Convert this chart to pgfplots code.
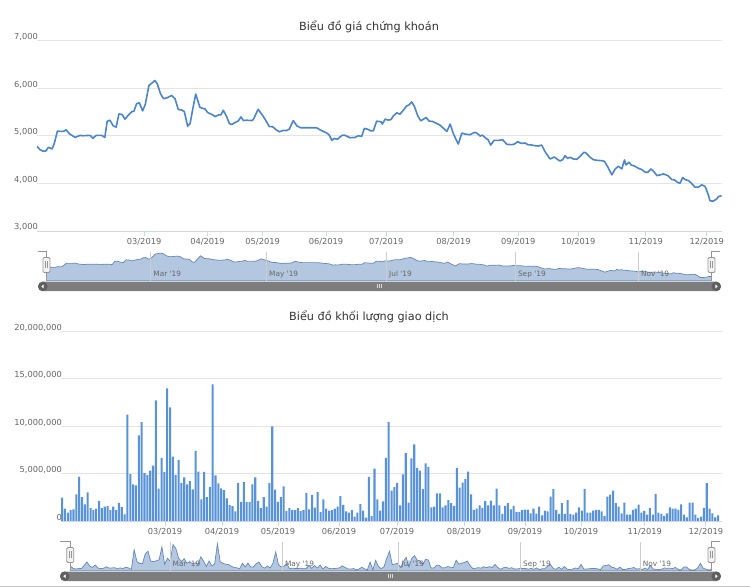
\documentclass[border=0pt]{standalone}
\usepackage{pgfplots}
\usepackage{pgfplotstable}
\pgfplotsset{compat=1.18}
\usepackage{fontspec}
\setmainfont{DejaVu Sans}
\definecolor{pline}{RGB}{74,134,204}
\definecolor{barc}{RGB}{88,146,216}
\definecolor{gridc}{RGB}{228,228,228}
\definecolor{axisline}{RGB}{204,214,235}
\definecolor{lbl}{RGB}{102,102,102}
\definecolor{ttl}{RGB}{51,51,51}
\definecolor{navfill}{RGB}{180,199,224}
\definecolor{navline}{RGB}{100,135,185}
\definecolor{navgrid}{RGB}{205,205,205}
\definecolor{outl}{RGB}{150,150,150}
\definecolor{scrollc}{RGB}{125,125,125}
\definecolor{scrollbtn}{RGB}{95,95,95}

\pgfplotstableread{
x p
0 4778
1.0 4708
2.1 4674
3.0 4681
3.8 4757
4.6 4736
5.0 4722
5.7 4826
6.8 5097
8.2 5090
9.0 5097
9.7 5125
10.8 5042
12.7 4965
14.3 5007
15.4 5000
17.1 5007
17.9 5000
18.6 4944
19.7 5007
21.6 5007
22.6 4965
23.4 5305
24.3 5326
25.4 5208
26.4 5181
27.3 5458
28.4 5444
29.3 5347
30.7 5451
31.6 5507
32.3 5514
33.2 5674
34.1 5694
35.2 5521
36.1 5660
37.3 6055
38.4 6111
39.3 6160
40.1 6090
41.2 5875
42.2 5778
43.4 5799
44.9 5847
46.0 5778
47.1 5549
48.2 5542
49.1 5507
50.2 5201
51.0 5250
51.9 5556
52.9 5875
54.3 5597
55.2 5576
56.0 5562
56.9 5486
58.6 5437
59.3 5403
60.8 5444
61.3 5437
62.1 5535
63.2 5403
64.1 5257
64.9 5236
66.0 5278
67.1 5312
68.0 5396
68.8 5319
69.9 5326
71.6 5319
72.1 5340
73.7 5556
74.9 5451
76.0 5347
77.4 5194
78.6 5188
79.7 5125
80.8 5083
81.9 5111
83.2 5111
84.1 5139
85.4 5319
86.6 5208
87.9 5167
89.3 5167
91.0 5167
93.2 5167
94.3 5125
96.6 5056
97.4 5014
98.3 4903
99.1 4944
100.1 4924
101.6 5007
102.4 5014
103.2 4993
104.3 4958
106.0 4965
107.1 5000
108.2 4986
109.1 5153
110.1 5139
111.2 5104
112.1 5104
113.2 5306
114.7 5293
115.1 5244
116.0 5348
117.1 5328
118.0 5341
118.8 5418
119.9 5481
121.0 5453
122.1 5537
123.2 5627
124.0 5648
124.9 5711
125.8 5613
126.9 5418
127.9 5314
128.8 5348
129.7 5383
130.7 5307
131.8 5300
133.0 5265
134.3 5223
135.4 5160
136.6 5091
137.7 5244
138.8 5035
140.4 4826
141.6 5056
142.7 5035
144.3 5021
145.8 5070
146.6 5056
147.7 4993
148.4 5014
149.7 4944
150.4 4909
151.2 4805
152.3 4902
153.8 4902
155.2 4916
156.6 4819
158.2 4812
159.1 4826
160.2 4875
161.3 4840
162.7 4847
163.6 4812
164.9 4805
166.0 4791
167.1 4784
168.2 4805
169.3 4666
171.0 4512
172.4 4554
173.6 4498
174.3 4470
175.2 4498
176.0 4582
176.8 4526
177.7 4547
178.8 4512
179.9 4505
181.0 4568
182.3 4652
183.0 4638
184.1 4561
185.4 4498
186.6 4484
188.2 4477
189.1 4463
190.1 4359
191.6 4178
192.7 4303
193.8 4359
194.9 4303
195.8 4491
196.3 4387
197.3 4443
198.0 4387
199.1 4366
200.4 4317
201.6 4289
202.7 4233
203.6 4233
204.6 4303
205.5 4254
206.6 4164
207.7 4178
208.8 4199
210.2 4164
211.6 4080
212.4 4073
213.6 4017
214.3 4003
215.2 4122
216.0 4080
217.1 4059
218.0 4010
219.3 3920
220.4 3920
221.6 3969
222.7 3934
223.8 3746
224.3 3634
225.4 3627
226.6 3676
227.1 3725
228.2 3739
}\pricetable

\pgfplotstableread{
v
2.45
1.3
0.87
1.15
1.22
2.8
4.65
2.5
1.75
3.0
1.36
1.15
1.3
2.13
1.36
1.5
1.57
1.15
1.5
1.15
1.92
1.47
0.7
11.2
4.93
3.85
3.74
9.0
10.4
5.03
4.86
5.3
5.84
12.7
3.4
6.64
5.14
13.95
11.96
6.78
4.86
6.43
4.0
4.6
3.85
4.2
3.32
7.38
5.2
2.27
5.17
2.5
3.6
14.37
4.79
3.95
3.43
3.25
2.38
1.68
1.57
1.0
4.0
2.0
4.1
2.0
2.0
3.85
4.6
2.13
1.36
2.5
1.5
4.0
9.97
3.3
2.0
2.5
3.64
1.05
1.36
1.15
1.15
1.36
1.05
1.15
2.97
1.22
2.76
1.4
3.04
0.94
2.27
1.3
1.08
1.15
1.3
1.5
2.62
1.71
1.0
0.87
1.15
0.45
0.87
1.78
1.08
0.35
4.65
0.52
5.5
2.27
1.08
2.06
6.64
10.4
3.2
3.6
4.0
1.65
4.9
7.15
1.94
6.6
8.06
5.6
5.3
3.35
6.06
5.7
1.44
1.5
2.9
2.9
1.44
1.65
2.2
1.87
1.58
5.6
3.5
4.05
4.4
5.2
2.8
1.16
1.3
1.65
1.37
2.08
1.65
2.15
1.65
3.4
1.65
0.74
1.58
1.87
1.23
1.58
0.95
0.95
1.16
1.2
1.2
0.81
1.3
0.77
1.5
0.6
1.09
1.02
2.57
3.35
1.16
0.74
1.87
0.74
2.2
0.74
0.67
0.88
1.44
1.09
3.38
0.88
0.88
1.09
1.16
1.16
1.02
0.53
2.57
2.78
3.2
1.87
1.51
0.81
1.94
0.67
0.67
1.16
1.3
1.72
0.88
1.06
0.67
1.37
0.67
2.85
0.88
0.74
0.53
0.81
1.44
1.3
1.3
1.16
1.76
0.67
0.39
1.94
1.94
0.67
0.32
0.46
1.37
3.98
1.3
0.81
0.39
0.6
}\voltable

\pgfplotsset{
  mainax/.style={
    scale only axis, anchor=south west,
    axis x line*=bottom, axis y line*=left,
    separate axis lines,
    x axis line style={draw=axisline, line width=0.8bp},
    y axis line style={draw=none},
    ymajorgrids, grid style={draw=gridc, line width=0.8bp},
    tick align=outside,
    xtick style={draw=axisline, line width=0.8bp},
    major tick length=5bp,
    ytick style={draw=none},
    ticklabel style={font=\fontsize{8.3}{9.5}\selectfont, text=lbl},
    yticklabel style={anchor=base east, inner sep=0pt, xshift=6bp, yshift=1bp},
    xticklabel style={anchor=north, inner sep=0pt, yshift=-2.5bp},
    /pgf/number format/assume math mode=true,
  },
  navax/.style={
    scale only axis, anchor=south west,
    axis line style={draw=none},
    ytick=\empty,
    xmajorgrids, grid style={draw=navgrid, line width=0.8bp},
    tick style={draw=none},
    axis on top,
    ticklabel style={font=\fontsize{7.4}{8}\selectfont, text=lbl},
    xticklabel style={anchor=base west, inner sep=0pt, xshift=2.5bp, yshift=4bp},
    xticklabels={Mar \textquotesingle19,May \textquotesingle19,Jul \textquotesingle19,Sep \textquotesingle19,Nov \textquotesingle19},
  },
}

\begin{document}
\begin{tikzpicture}
\path[use as bounding box] (0,0) rectangle (750bp,587bp);

% ---------- titles
\node[font=\fontsize{11.3}{13}\selectfont, text=ttl] at (369bp,560.5bp) {Biểu đồ giá chứng khoán};
\node[font=\fontsize{11.3}{13}\selectfont, text=ttl] at (369bp,270.5bp) {Biểu đồ khối lượng giao dịch};

% ---------- price chart
\begin{axis}[mainax,
  at={(37bp,356bp)}, width=684.7bp, height=190.5bp,
  xmin=0, xmax=228.2, ymin=3000, ymax=7000,
  ytick={3000,4000,5000,6000,7000},
  yticklabels={{3,000},{4,000},{5,000},{6,000},{7,000}},
  xtick={35.7,56.8,75.2,96.3,116.4,138.8,160.4,180.4,202.9,223.2},
  xticklabels={03/2019,04/2019,05/2019,06/2019,07/2019,08/2019,09/2019,10/2019,11/2019,12/2019},
]
\addplot[pline, line width=1.6bp, line join=round, mark=none] table[x=x,y=p]{\pricetable};
\end{axis}

% ---------- price navigator
\begin{axis}[navax,
  at={(46.4bp,306.3bp)}, width=665.1bp, height=29bp,
  xmin=0, xmax=228.2, ymin=3300, ymax=6300,
  xtick={35.8,75.5,116.7,160.9,203.1},
]
\addplot[fill=navfill, draw=navline, line width=0.7bp, mark=none] table[x=x,y=p]{\pricetable} \closedcycle;
\end{axis}

% ---------- volume chart
\begin{axis}[mainax,
  at={(61bp,66bp)}, width=660.5bp, height=190bp,
  xmin=-0.4, xmax=232.2, ymin=0, ymax=20,
  ytick={0,5,10,15,20},
  yticklabels={0,{5,000,000},{10,000,000},{15,000,000},{20,000,000}},
  xtick={36.2,56.3,76.0,97.5,117.9,141.5,163.0,182.7,205.2,226.7},
  xticklabels={03/2019,04/2019,05/2019,06/2019,07/2019,08/2019,09/2019,10/2019,11/2019,12/2019},
]
\addplot[ybar, bar width=0.72, fill=barc, draw=none] table[x expr=\coordindex, y=v]{\voltable};
\end{axis}

% ---------- volume navigator
\begin{axis}[navax,
  at={(70.3bp,16.3bp)}, width=641.2bp, height=29bp,
  xmin=0, xmax=231, ymin=0, ymax=15.5,
  xtick={35.9,76.4,118.3,162.2,205.3},
]
\addplot[fill=navfill, draw=navline, line width=0.7bp, mark=none] table[x expr=\coordindex, y=v]{\voltable} \closedcycle;
\end{axis}

% ---------- navigator outlines, handles, scrollbars
\begin{scope}[x=1bp,y=1bp]
  % top navigator
  \draw[outl, line width=0.9bp] (38.3,335.3) -- (46.4,335.3) -- (46.4,306.3);
  \draw[outl, line width=0.9bp] (720,335.3) -- (711.5,335.3) -- (711.5,306.3);
  \foreach \hx in {46.4,711.5}{
    \draw[outl, fill=white!95!black, line width=0.8bp, rounded corners=1.2bp] (\hx-3.5,314.5) rectangle (\hx+3.5,329.5);
    \draw[outl, line width=0.6bp] (\hx-1,318.5) -- (\hx-1,325.5) (\hx+1,318.5) -- (\hx+1,325.5);
  }
  \fill[scrollc, rounded corners=4.6bp] (38,295.8) rectangle (721,305.3);
  \fill[scrollbtn] (42.8,300.55) circle (4.75);
  \fill[scrollbtn] (716.2,300.55) circle (4.75);
  \fill[white] (41.3,300.55) -- (43.6,302.5) -- (43.6,298.6) -- cycle;
  \fill[white] (717.7,300.55) -- (715.4,302.5) -- (715.4,298.6) -- cycle;
  \draw[white!85!black, line width=0.6bp] (377.5,298.5) -- (377.5,302.6) (379.5,298.5) -- (379.5,302.6) (381.5,298.5) -- (381.5,302.6);

  % bottom navigator
  \draw[outl, line width=0.9bp] (59.8,45.3) -- (70.3,45.3) -- (70.3,16.3);
  \draw[outl, line width=0.9bp] (720,45.3) -- (711.5,45.3) -- (711.5,16.3);
  \foreach \hx in {70.3,711.5}{
    \draw[outl, fill=white!95!black, line width=0.8bp, rounded corners=1.2bp] (\hx-3.5,24.5) rectangle (\hx+3.5,39.5);
    \draw[outl, line width=0.6bp] (\hx-1,28.5) -- (\hx-1,35.5) (\hx+1,28.5) -- (\hx+1,35.5);
  }
  \fill[scrollc, rounded corners=4.6bp] (60,6) rectangle (721,15.5);
  \fill[scrollbtn] (64.8,10.75) circle (4.75);
  \fill[scrollbtn] (716.2,10.75) circle (4.75);
  \fill[white] (63.3,10.75) -- (65.6,12.7) -- (65.6,8.8) -- cycle;
  \fill[white] (717.7,10.75) -- (715.4,12.7) -- (715.4,8.8) -- cycle;
  \draw[white!85!black, line width=0.6bp] (388.5,8.7) -- (388.5,12.8) (390.5,8.7) -- (390.5,12.8) (392.5,8.7) -- (392.5,12.8);

  % container bottom border
  \draw[white!78!black, line width=0.8bp] (0,0.6) -- (750,0.6);
\end{scope}
\end{tikzpicture}
\end{document}
